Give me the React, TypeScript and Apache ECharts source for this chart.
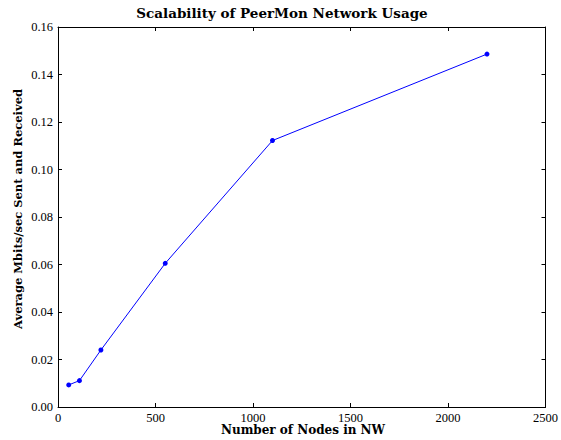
import React, { useEffect, useRef } from "react";
import * as echarts from "echarts";

const nodes = [55, 110, 220, 550, 1100, 2200];
const mbits = [0.0093, 0.0111, 0.024, 0.0605, 0.1122, 0.1486];
const titleText = "Scalability of PeerMon Network Usage";
const xName = "Number of Nodes in NW";
const yName = "Average Mbits/sec Sent and Received";

const FONT = "Liberation Serif";
const BOLDFONT = "DejaVu Serif";

export default function App() {
  const ref = useRef<HTMLDivElement>(null);
  useEffect(() => {
    if (!ref.current) return;
    const chart = echarts.init(ref.current, null, { renderer: "svg" });
    const tickLine = { lineStyle: { color: "#000", width: 1 } };
    const baseX = {
      type: "value" as const,
      min: 0,
      max: 2500,
      interval: 500,
      splitLine: { show: false },
      axisLine: { show: true, onZero: false, lineStyle: { color: "#000", width: 1 } },
      axisTick: { show: true, inside: true, length: 4, ...tickLine },
    };
    const baseY = {
      type: "value" as const,
      min: 0,
      max: 0.16,
      interval: 0.02,
      splitLine: { show: false },
      axisLine: { show: true, onZero: false, lineStyle: { color: "#000", width: 1 } },
      axisTick: { show: true, inside: true, length: 4, ...tickLine },
    };
    chart.setOption({
      animation: false,
      backgroundColor: "#fff",
      grid: { left: 58, right: 13, top: 27, bottom: 33, containLabel: false },
      xAxis: [
        {
          ...baseX,
          position: "bottom",
          axisLabel: {
            color: "#000",
            fontFamily: FONT,
            fontSize: 12.5,
            margin: 4,
            formatter: (v: number) => String(v),
          },
        },
        { ...baseX, position: "top", axisLabel: { show: false } },
      ],
      yAxis: [
        {
          ...baseY,
          position: "left",
          axisLabel: {
            color: "#000",
            fontFamily: FONT,
            fontSize: 12.5,
            margin: 5,
            formatter: (v: number) => v.toFixed(2),
          },
        },
        { ...baseY, position: "right", axisLabel: { show: false } },
      ],
      graphic: [
        {
          type: "text",
          x: 282,
          y: 6,
          style: {
            text: titleText,
            fontFamily: BOLDFONT,
            fontWeight: "bold",
            fontSize: 13.5,
            fill: "#000",
            textAlign: "center",
            textVerticalAlign: "top",
          },
        },
        {
          type: "text",
          x: 303,
          y: 430,
          style: {
            text: xName,
            fontFamily: BOLDFONT,
            fontWeight: "bold",
            fontSize: 12,
            fill: "#000",
            textAlign: "center",
            textVerticalAlign: "middle",
          },
        },
        {
          type: "text",
          x: 18,
          y: 209,
          rotation: Math.PI / 2,
          style: {
            text: yName,
            fontFamily: BOLDFONT,
            fontWeight: "bold",
            fontSize: 11.5,
            fill: "#000",
            textAlign: "center",
            textVerticalAlign: "middle",
          },
        },
      ],
      series: [
        {
          type: "line",
          xAxisIndex: 0,
          yAxisIndex: 0,
          data: nodes.map((n, i) => [n, mbits[i]]),
          symbol: "circle",
          symbolSize: 5,
          lineStyle: { color: "#0000ff", width: 1 },
          itemStyle: { color: "#0000ff" },
        },
      ],
    });
    return () => chart.dispose();
  }, []);
  return (
    <div
      ref={ref}
      style={{ position: "fixed", left: 0, top: 0, width: 561, height: 440 }}
    />
  );
}
